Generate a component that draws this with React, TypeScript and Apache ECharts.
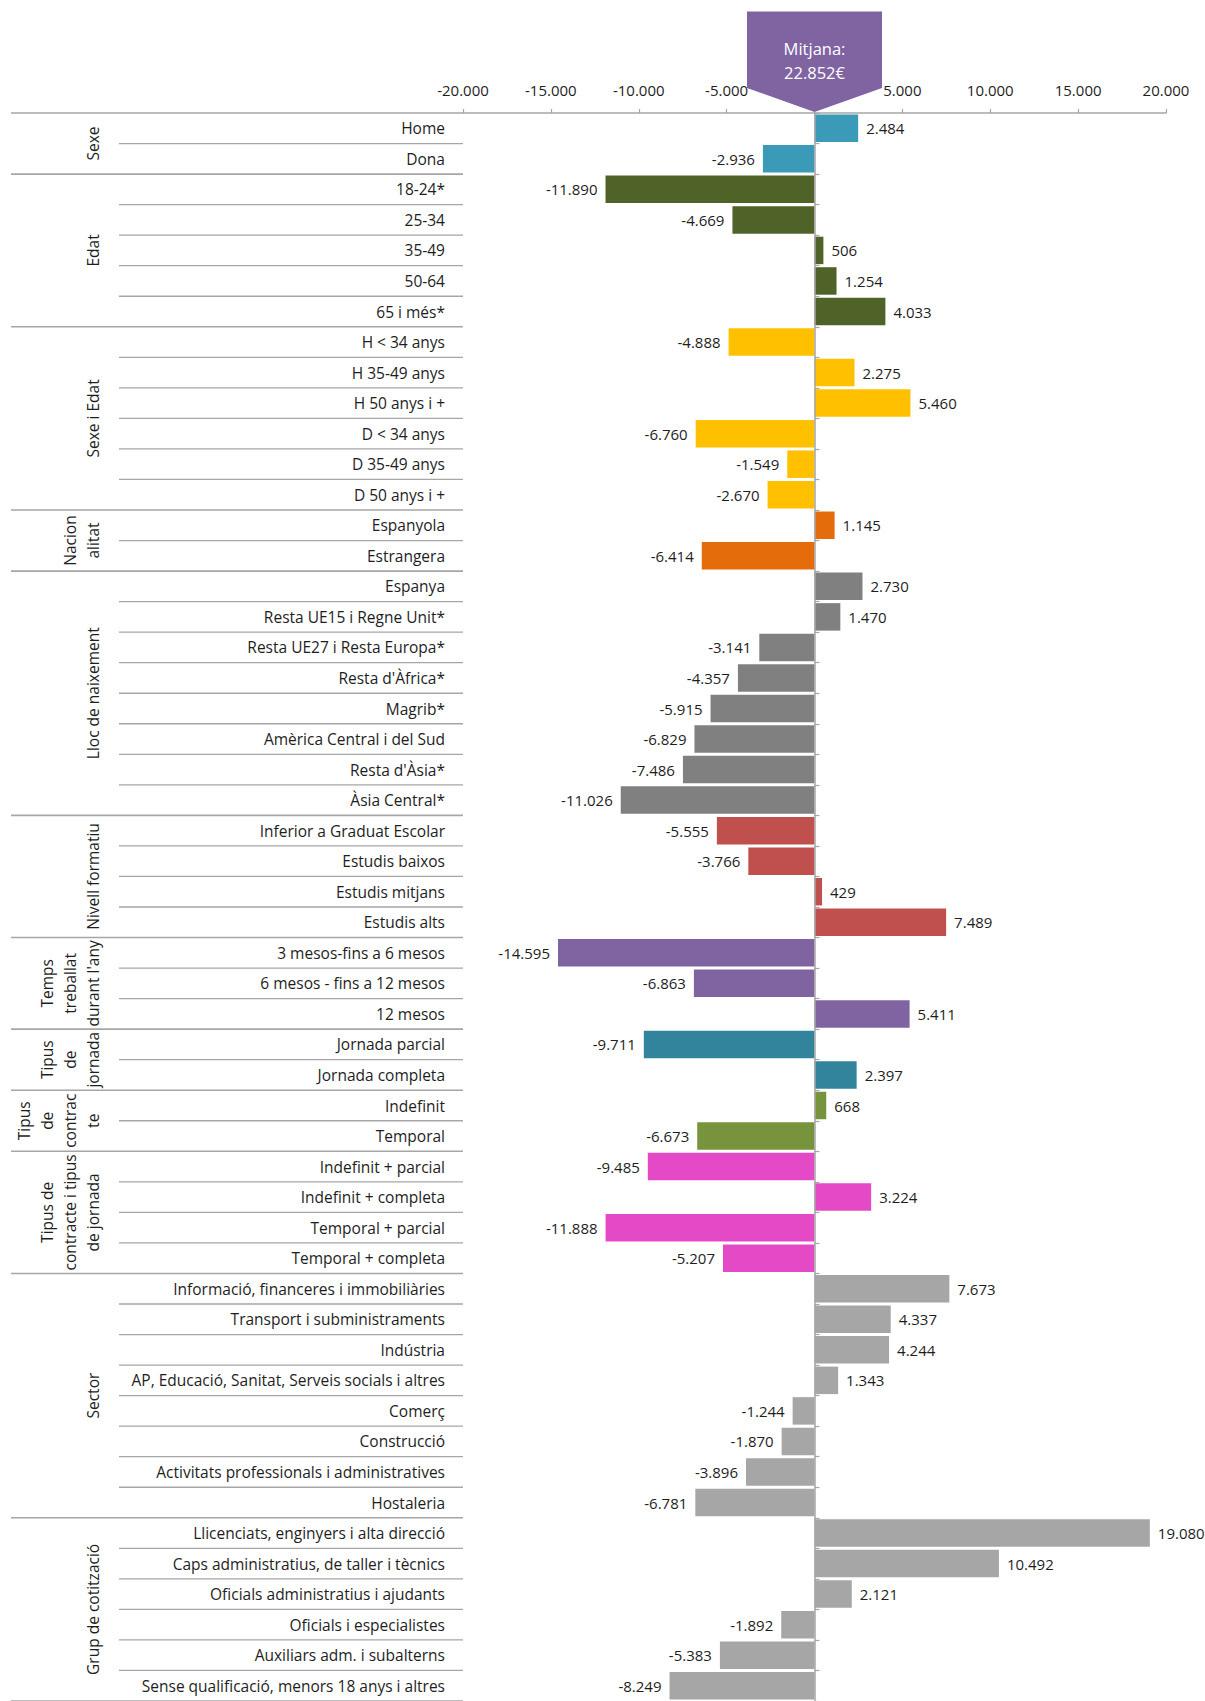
import React, { useEffect, useRef } from "react";
import * as echarts from "echarts";

// ---- Data ----
const groupLabels = [
  "Sexe",
  "Edat",
  "Sexe i Edat",
  "Nacion\nalitat",
  "Lloc de naixement",
  "Nivell formatiu",
  "Temps\ntreballat\ndurant l'any",
  "Tipus\nde\njornada",
  "Tipus\nde\ncontrac\nte",
  "Tipus de\ncontracte i tipus\nde jornada",
  "Sector",
  "Grup de cotització",
];

const sexeCats = ["Home", "Dona"];
const sexeVals = [2484, -2936];
const edatCats = ["18-24*", "25-34", "35-49", "50-64", "65 i més*"];
const edatVals = [-11890, -4669, 506, 1254, 4033];
const sexeEdatCats = ["H < 34 anys", "H 35-49 anys", "H 50 anys i +", "D < 34 anys", "D 35-49 anys", "D 50 anys i +"];
const sexeEdatVals = [-4888, 2275, 5460, -6760, -1549, -2670];
const nacCats = ["Espanyola", "Estrangera"];
const nacVals = [1145, -6414];
const llocCats = [
  "Espanya",
  "Resta UE15 i Regne Unit*",
  "Resta UE27 i Resta Europa*",
  "Resta d'Àfrica*",
  "Magrib*",
  "Amèrica Central i del Sud",
  "Resta d'Àsia*",
  "Àsia Central*",
];
const llocVals = [2730, 1470, -3141, -4357, -5915, -6829, -7486, -11026];
const nivellCats = ["Inferior a Graduat Escolar", "Estudis baixos", "Estudis mitjans", "Estudis alts"];
const nivellVals = [-5555, -3766, 429, 7489];
const tempsCats = ["3 mesos-fins a 6 mesos", "6 mesos - fins a 12 mesos", "12 mesos"];
const tempsVals = [-14595, -6863, 5411];
const jornadaCats = ["Jornada parcial", "Jornada completa"];
const jornadaVals = [-9711, 2397];
const contracteCats = ["Indefinit", "Temporal"];
const contracteVals = [668, -6673];
const contJornCats = ["Indefinit + parcial", "Indefinit + completa", "Temporal + parcial", "Temporal + completa"];
const contJornVals = [-9485, 3224, -11888, -5207];
const sectorCats = [
  "Informació, financeres i immobiliàries",
  "Transport i subministraments",
  "Indústria",
  "AP, Educació, Sanitat, Serveis socials i altres",
  "Comerç",
  "Construcció",
  "Activitats professionals i administratives",
  "Hostaleria",
];
const sectorVals = [7673, 4337, 4244, 1343, -1244, -1870, -3896, -6781];
const grupCats = [
  "Llicenciats, enginyers i alta direcció",
  "Caps administratius, de taller i tècnics",
  "Oficials administratius i ajudants",
  "Oficials i especialistes",
  "Auxiliars adm. i subalterns",
  "Sense qualificació, menors 18 anys i altres",
];
const grupVals = [19080, 10492, 2121, -1892, -5383, -8249];

const meanLabel = "Mitjana:\n22.852€";
const xTicks = { min: -20000, max: 20000, interval: 5000 };

// ---- Styles ----
const palette = [
  "#3A9AB8",
  "#4F6228",
  "#FFC000",
  "#E46C0A",
  "#808080",
  "#C0504D",
  "#8064A2",
  "#31849B",
  "#77933C",
  "#E54AC6",
  "#A6A6A6",
  "#A6A6A6",
];
const FONT = "'Open Sans', 'Noto Sans', sans-serif";
const TEXT = "#1e1e1e";
const LINE = "#A6A6A6";

const groupCats = [sexeCats, edatCats, sexeEdatCats, nacCats, llocCats, nivellCats, tempsCats, jornadaCats, contracteCats, contJornCats, sectorCats, grupCats];
const groupVals = [sexeVals, edatVals, sexeEdatVals, nacVals, llocVals, nivellVals, tempsVals, jornadaVals, contracteVals, contJornVals, sectorVals, grupVals];

const fmt = (v: number) => {
  const s = Math.abs(Math.round(v)).toString().replace(/\B(?=(\d{3})+(?!\d))/g, ".");
  return (v < 0 ? "-" : "") + s;
};

export default function App() {
  const ref = useRef<HTMLDivElement>(null);
  useEffect(() => {
    document.body.style.margin = "0";
    const chart = echarts.init(ref.current!, null, { renderer: "svg" });

    const allCats: string[] = [];
    const data: any[] = [];
    const groupStart: number[] = [];
    groupCats.forEach((cats, g) => {
      groupStart.push(allCats.length);
      cats.forEach((c, i) => {
        allCats.push(c);
        const v = groupVals[g][i];
        data.push({
          value: v,
          itemStyle: { color: palette[g] },
          label: { position: v < 0 ? "left" : "right" },
        });
      });
    });
    const N = allCats.length;

    chart.setOption({
      animation: false,
      grid: { left: 463, top: 113, width: 703, height: 1593, containLabel: false },
      xAxis: {
        type: "value",
        position: "top",
        min: xTicks.min,
        max: xTicks.max,
        interval: xTicks.interval,
        axisLine: { show: true, onZero: false, lineStyle: { color: LINE, width: 1.5 } },
        axisTick: { show: true, length: 4, lineStyle: { color: LINE, width: 1.2 } },
        splitLine: { show: false },
        axisLabel: {
          // the 0 label sits under the "Mitjana" marker in the original
          formatter: (v: number) => (v === 0 ? "" : fmt(v)),
          fontFamily: FONT,
          fontSize: 15,
          color: TEXT,
          margin: 16,
        },
      },
      yAxis: [
        {
          type: "category",
          inverse: true,
          data: allCats,
          position: "left",
          axisLine: { show: false, onZero: false },
          axisTick: { show: false },
          splitLine: { show: false },
          axisLabel: { fontFamily: FONT, fontSize: 15.5, color: TEXT, margin: 18 },
        },
        {
          type: "category",
          inverse: true,
          data: allCats,
          position: "left",
          axisLine: { show: true, onZero: true, lineStyle: { color: LINE, width: 1.5 } },
          axisTick: { show: true, inside: true, length: 5, lineStyle: { color: LINE, width: 1.2 } },
          splitLine: { show: false },
          axisLabel: { show: false },
          z: 5,
        },
      ],
      series: [
        {
          type: "bar",
          data,
          barCategoryGap: "10%",
          label: {
            show: true,
            formatter: (p: any) => fmt(p.value),
            distance: 8,
            fontFamily: FONT,
            fontSize: 15,
            color: TEXT,
          },
        },
      ],
    });

    const y0 = chart.convertToPixel({ yAxisIndex: 0 }, 0) as number;
    const y1 = chart.convertToPixel({ yAxisIndex: 0 }, 1) as number;
    const band = y1 - y0;
    const topB = y0 - band / 2;
    const xLeft = chart.convertToPixel({ xAxisIndex: 0 }, xTicks.min) as number;
    const xZero = chart.convertToPixel({ xAxisIndex: 0 }, 0) as number;

    const elements: any[] = [];
    for (let k = 0; k <= N; k++) {
      const y = topB + k * band;
      const isGroup = k === N || groupStart.indexOf(k) >= 0;
      elements.push({
        type: "line",
        shape: { x1: isGroup ? 11 : 119, y1: y, x2: xLeft, y2: y },
        style: { stroke: LINE, lineWidth: isGroup ? 1.6 : 1.3 },
        silent: true,
        z: 10,
      });
    }
    groupLabels.forEach((t, g) => {
      const s = groupStart[g];
      const e = g + 1 < groupStart.length ? groupStart[g + 1] : N;
      const cy = topB + ((s + e) / 2) * band;
      elements.push({
        type: "text",
        x: 104,
        y: cy,
        rotation: Math.PI / 2,
        style: {
          text: t,
          align: "center",
          verticalAlign: "bottom",
          fontFamily: FONT,
          fontSize: 15.5,
          lineHeight: 23,
          fill: TEXT,
        },
        z: 10,
      });
    });
    const half = 67.5;
    const tip = topB - 1;
    elements.push({
      type: "polygon",
      shape: {
        points: [
          [xZero - half, 11.5],
          [xZero + half, 11.5],
          [xZero + half, tip - 24],
          [xZero, tip],
          [xZero - half, tip - 24],
        ],
      },
      style: { fill: "#8064A2" },
      z: 100,
    });
    elements.push({
      type: "text",
      x: xZero,
      y: 60,
      style: {
        text: meanLabel,
        align: "center",
        verticalAlign: "middle",
        fontFamily: FONT,
        fontSize: 16.5,
        lineHeight: 24,
        fill: "#ffffff",
      },
      z: 101,
    });
    chart.setOption({ graphic: { elements } });

    return () => chart.dispose();
  }, []);
  return <div ref={ref} style={{ position: "absolute", left: 0, top: 0, width: 1205, height: 1701 }} />;
}
